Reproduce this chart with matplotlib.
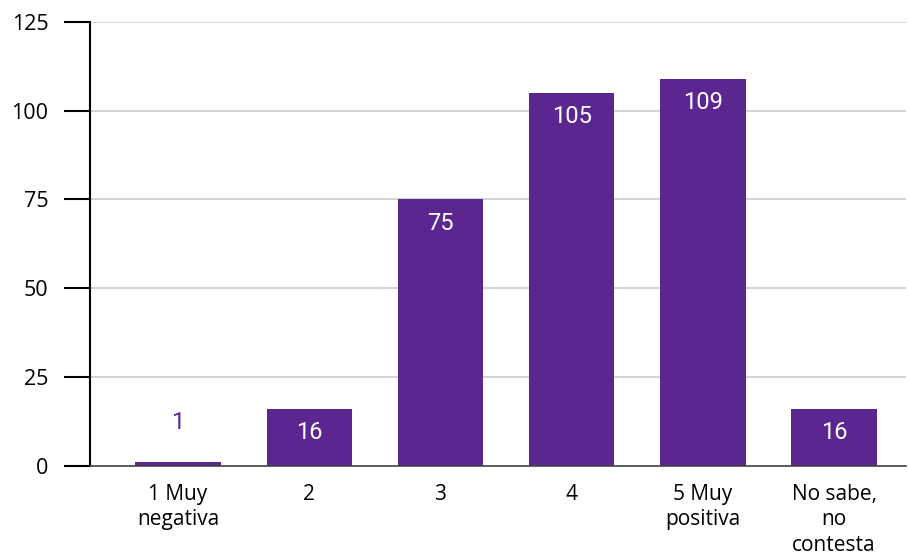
import matplotlib
matplotlib.use("Agg")
import matplotlib.pyplot as plt

plt.rcParams.update({"font.family": ["Open Sans", "DejaVu Sans"]})

PURPLE = "#5c2690"

categories = ["1 Muy\nnegativa", "2", "3", "4", "5 Muy\npositiva", "No sabe,\nno\ncontesta"]
values = [1, 16, 75, 105, 109, 16]
yticks = [0, 25, 50, 75, 100, 125]

fig = plt.figure(figsize=(9.09, 5.58), dpi=100)
ax = fig.add_axes([0.099, 0.165, 0.898, 0.796])

x = list(range(len(categories)))
bars = ax.bar(x, values, width=0.65, color=PURPLE, zorder=3)

for bar, v in zip(bars, values):
    cx = bar.get_x() + bar.get_width() / 2
    if v < 10:
        ax.annotate(str(v), (cx, v), xytext=(0, 29), textcoords="offset points",
                    ha="center", va="center", color=PURPLE, fontsize=17,
                    family="Roboto")
    else:
        ax.annotate(str(v), (cx, v), xytext=(0, -17), textcoords="offset points",
                    ha="center", va="center", color="white", fontsize=17,
                    family="Roboto")

ax.set_xlim(-0.67, 5.55)
ax.set_ylim(0, 125)
ax.set_yticks(yticks)
ax.tick_params(axis="y", length=19, width=1.5, color="black", pad=11,
               labelsize=15.5)
ax.set_xticks(x)
ax.set_xticklabels(categories, fontsize=15, linespacing=1.28)
ax.tick_params(axis="x", length=0, pad=13)

ax.grid(axis="y", color="#cccccc", linewidth=1.2, zorder=0)
for s in ["top", "right"]:
    ax.spines[s].set_visible(False)
ax.spines["left"].set_linewidth(1.5)
ax.spines["left"].set_color("black")
ax.spines["bottom"].set_color("#444444")
ax.spines["bottom"].set_linewidth(1.2)
ax.spines["bottom"].set_zorder(4)

fig.savefig("out.png", dpi=100)
